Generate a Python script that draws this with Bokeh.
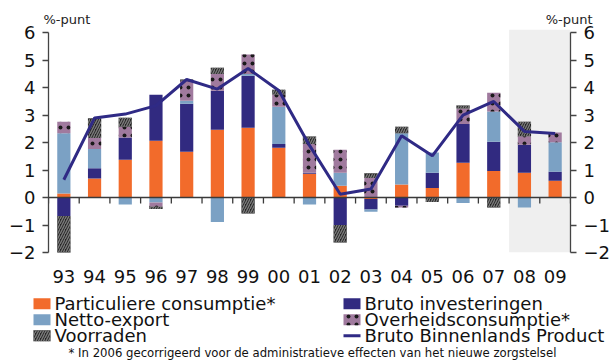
import numpy as np
from bokeh.plotting import figure
from bokeh.models import (Range1d, FactorRange, LinearAxis, FixedTicker, BoxAnnotation,
                          Span, ColumnDataSource)
from bokeh.layouts import column
from bokeh.core.properties import value
from bokeh.embed import file_html
from bokeh.resources import INLINE

# ---------------- data ----------------
years = ["93", "94", "95", "96", "97", "98", "99", "00", "01", "02",
         "03", "04", "05", "06", "07", "08", "09"]
particuliere = [0.15, 0.69, 1.38, 2.07, 1.67, 2.47, 2.54, 1.81, 0.87, 0.43,
                -0.05, 0.48, 0.35, 1.27, 0.97, 0.90, 0.61]
investeringen = [-0.67, 0.38, 0.81, 1.67, 1.75, 1.42, 1.90, 0.14, 0.03, -1.00,
                 -0.38, -0.30, 0.55, 1.41, 1.06, 1.02, 0.33]
netto_export = [2.19, 0.70, -0.25, -0.18, 0.11, -0.89, 0.06, 1.36, -0.25, 0.47,
                -0.09, 1.86, 0.74, -0.20, 1.10, -0.36, 1.07]
overheid = [0.42, 0.40, 0.39, -0.15, 0.72, 0.61, 0.71, 0.44, 1.05, 0.84,
            0.71, -0.06, 0.00, 0.56, 0.69, 0.31, 0.36]
voorraden = [-1.55, 0.72, 0.33, -0.09, 0.05, 0.23, -0.58, 0.18, 0.27, -0.64,
             0.18, 0.24, -0.16, 0.11, -0.36, 0.53, 0.00]
bbp = [0.65, 2.90, 3.04, 3.35, 4.30, 3.95, 4.70, 3.90, 1.90, 0.12,
       0.31, 2.25, 1.52, 3.00, 3.50, 2.41, 2.33]
y_ticks = [-2, -1, 0, 1, 2, 3, 4, 5, 6]
forecast_years = ["08", "09"]
series_names = ["Particuliere consumptie*", "Bruto investeringen", "Netto-export",
                "Overheidsconsumptie*", "Voorraden", "Bruto Binnenlands Product"]
footnote = "* In 2006 gecorrigeerd voor de administratieve effecten van het nieuwe zorgstelsel"
unit_label = "%-punt"

# ---------------- styles / layout ----------------
FONT = "DejaVu Sans"
C_ORANGE = "#f26b2b"
C_DBLUE = "#312a80"
C_LBLUE = "#7ba1c4"
C_PURPLE = "#a07a9e"
C_STOCK = "#262626"
C_LINE = "#2f2a85"
W = 613
HEADER_H = 29          # header canvas height
P_OVERLAP_TOP = 10     # chart canvas starts 10px above the frame
P_BORDER_BOTTOM = 66
P_H = 10 + 223 + P_BORDER_BOTTOM   # canvas height: top border + frame + bottom border
LEG_OVERLAP = 30       # legend canvas overlaps bottom border of chart
LEG_H = 72
Y_TOP = 6.12

styles = [
    dict(fill_color=C_ORANGE),
    dict(fill_color=C_DBLUE),
    dict(fill_color=C_LBLUE),
    dict(fill_color=C_PURPLE, hatch_pattern="dot", hatch_color="#1a1a1a",
         hatch_scale=8, hatch_weight=2),
    dict(fill_color=C_STOCK, hatch_pattern="right_diagonal_line", hatch_color="#7a7a7a",
         hatch_scale=5, hatch_weight=1.4),
]
series = [particuliere, investeringen, netto_export, overheid, voorraden]


def bare_figure(height, y_extent):
    f = figure(width=W, height=height, x_range=Range1d(0, W), y_range=Range1d(y_extent, 0),
               output_backend="svg", toolbar_location=None, min_border=0,
               min_border_left=0, min_border_right=0, min_border_top=0, min_border_bottom=0,
               x_axis_location=None, y_axis_location=None)
    f.xgrid.visible = False
    f.ygrid.visible = False
    f.outline_line_color = None
    f.background_fill_alpha = 0.0
    f.border_fill_alpha = 0.0
    f.frame_align = False
    return f


# ---------------- header ("%-punt" labels) ----------------
hdr = bare_figure(HEADER_H, HEADER_H)
hdr.text(x=[43], y=[19], text=[unit_label], text_font=value(FONT),
         text_font_size=value("13px"), text_color="#222222",
         text_baseline="middle", text_align="left")
hdr.text(x=[592], y=[19], text=[unit_label], text_font=value(FONT),
         text_font_size=value("13px"), text_color="#222222",
         text_baseline="middle", text_align="right")

# ---------------- main chart ----------------
p = figure(x_range=FactorRange(factors=years, range_padding=0),
           y_range=Range1d(min(y_ticks), Y_TOP),
           width=W, height=P_H, output_backend="svg",
           toolbar_location=None,
           min_border_left=48, min_border_right=35, min_border_top=P_OVERLAP_TOP,
           min_border_bottom=P_BORDER_BOTTOM)
p.margin = (-P_OVERLAP_TOP, 0, 0, 0)
p.xgrid.visible = False
p.ygrid.visible = False
p.outline_line_color = None
p.border_fill_alpha = 0.0

# forecast shading
p.add_layout(BoxAnnotation(left=years.index(forecast_years[0]), right=len(years),
                           bottom=min(y_ticks), top=Y_TOP,
                           fill_color="#efefef", fill_alpha=1.0, line_color=None,
                           level="underlay"))

# stacked bars (positive up, negative down)
pos = np.zeros(len(years))
neg = np.zeros(len(years))
for vals, st in zip(series, styles):
    v = np.array(vals, dtype=float)
    bottom = np.where(v >= 0, pos, neg)
    top = bottom + v
    pos = np.where(v >= 0, top, pos)
    neg = np.where(v < 0, top, neg)
    src = ColumnDataSource(dict(x=years, top=top, bottom=bottom))
    p.vbar(x="x", top="top", bottom="bottom", width=0.43, source=src,
           line_color=None, **st)

# zero line and ticks between categories
p.add_layout(Span(location=0, dimension="width", line_color="#3a3a3a", line_width=1.5))
bounds_x = np.arange(len(years) + 1)
p.segment(x0=bounds_x, y0=np.zeros(len(bounds_x)), x1=bounds_x,
          y1=np.full(len(bounds_x), -0.22), line_color="#3a3a3a", line_width=1.3)

# GDP line
p.line(x=years, y=bbp, line_color=C_LINE, line_width=3)

# axes
xa = p.xaxis[0]
xa.axis_line_color = None
xa.major_tick_line_color = None
xa.minor_tick_line_color = None
xa.major_tick_out = 0
xa.major_tick_in = 0
xa.major_label_standoff = 17
xa.major_label_text_font = FONT
xa.major_label_text_font_size = "18px"
xa.major_label_text_color = "#111111"

ya = p.yaxis[0]
ra = LinearAxis()
p.add_layout(ra, "right")
for ax in (ya, ra):
    ax.ticker = FixedTicker(ticks=y_ticks)
    ax.bounds = (min(y_ticks), max(y_ticks))
    ax.axis_line_color = "#444444"
    ax.axis_line_width = 1.3
    ax.major_tick_line_color = "#444444"
    ax.major_tick_line_width = 1.3
    ax.major_tick_out = 6
    ax.major_tick_in = 0
    ax.minor_tick_line_color = None
    ax.major_label_standoff = 7
    ax.major_label_text_font = FONT
    ax.major_label_text_font_size = "18px"
    ax.major_label_text_color = "#111111"

# ---------------- legend panel ----------------
leg = bare_figure(LEG_H, LEG_H)
leg.margin = (-LEG_OVERLAP, 0, 0, 0)
col_x = [33, 343]
row_y = [15.3, 31.3, 47.3]
# (series index, column, row)
placement = [(0, 0, 0), (2, 0, 1), (4, 0, 2), (1, 1, 0), (3, 1, 1)]
for s_idx, c, r in placement:
    cx, cy = col_x[c], row_y[r]
    leg.quad(left=[cx], right=[cx + 17], top=[cy - 5.5], bottom=[cy + 5.5],
             line_color=None, **styles[s_idx])
    leg.text(x=[cx + 21], y=[cy], text=[series_names[s_idx]],
             text_font=value(FONT), text_font_size=value("18px"),
             text_color="#111111", text_baseline="middle", text_align="left")
cx, cy = col_x[1], row_y[2]
leg.segment(x0=[cx], y0=[cy], x1=[cx + 17], y1=[cy], line_color=C_LINE, line_width=3)
leg.text(x=[cx + 21], y=[cy], text=[series_names[5]], text_font=value(FONT),
         text_font_size=value("18px"), text_color="#111111",
         text_baseline="middle", text_align="left")
leg.text(x=[68], y=[64.5], text=[footnote], text_font=value(FONT),
         text_font_size=value("11.7px"), text_color="#111111",
         text_baseline="middle", text_align="left")

layout = column(hdr, p, leg, spacing=0)
open("out.html", "w").write(file_html(layout, INLINE))
